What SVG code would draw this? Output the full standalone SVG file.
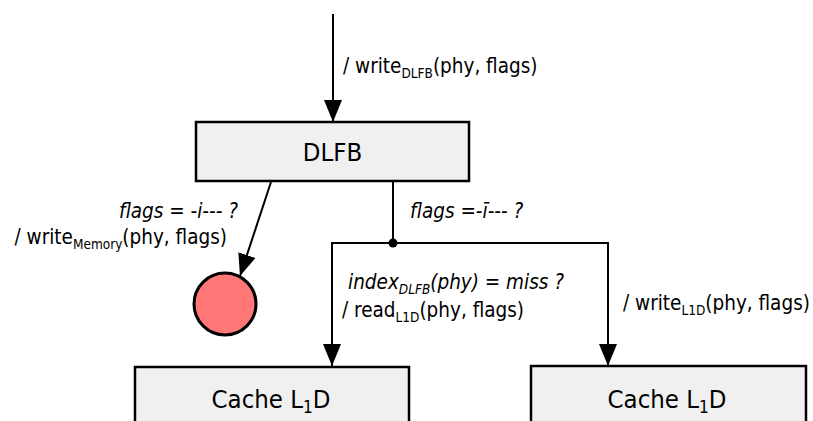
<svg xmlns="http://www.w3.org/2000/svg" width="813" height="421" viewBox="0 0 813 421">
  <style>
    text { font-family: "DejaVu Sans", "Liberation Sans", sans-serif; font-stretch: condensed; fill: #000; }
    .box { fill: #f0f0f0; stroke: #000; stroke-width: 2.5; }
    .name { font-size: 25.5px; text-anchor: middle; }
    .lbl { font-size: 20.5px; }
    .it { font-style: italic; }
    .sub { font-size: 13.5px; }
    .wire { fill: none; stroke: #000; stroke-width: 2; }
  </style>
  <defs>
    <marker id="head" markerUnits="userSpaceOnUse" markerWidth="22" markerHeight="18" viewBox="0 0 22 18" refX="22" refY="9" orient="auto">
      <path d="M0,0 L22,9 L0,18 Z" fill="#000"/>
    </marker>
  </defs>

  <!-- connectors and their labels -->
  <g id="connectors">
    <line class="wire" x1="333" y1="14" x2="333" y2="122" marker-end="url(#head)"/>
    <line class="wire" x1="271" y1="182" x2="240" y2="276" marker-end="url(#head)"/>
    <polyline class="wire" points="393,182 393,243"/>
    <polyline class="wire" points="332,366 332,243 608,243 608,366"/>
    <line class="wire" x1="332" y1="300" x2="332" y2="366" marker-end="url(#head)"/>
    <line class="wire" x1="608" y1="300" x2="608" y2="366" marker-end="url(#head)"/>
    <circle cx="393" cy="243" r="4.5" fill="#000"/>

    <text class="lbl" x="343" y="73">/ write<tspan class="sub" dy="5">DLFB</tspan><tspan dy="-5">(phy, flags)</tspan></text>
    <text class="lbl it" x="238" y="218" text-anchor="end">flags = -i--- ?</text>
    <text class="lbl" x="227" y="244" text-anchor="end">/ write<tspan class="sub" dy="5">Memory</tspan><tspan dy="-5">(phy, flags)</tspan></text>
    <text class="lbl it" x="410" y="218">flags =-ī--- ?</text>
    <text class="lbl it" x="348" y="289">index<tspan class="sub" dy="5">DLFB</tspan><tspan dy="-5">(phy) = miss ?</tspan></text>
    <text class="lbl" x="342" y="317">/ read<tspan class="sub" dy="5">L1D</tspan><tspan dy="-5">(phy, flags)</tspan></text>
    <text class="lbl" x="623" y="310">/ write<tspan class="sub" dy="5">L1D</tspan><tspan dy="-5">(phy, flags)</tspan></text>
  </g>

  <g id="dlfb">
    <rect class="box" x="196" y="122" width="273" height="59"/>
    <text class="name" x="332.5" y="161">DLFB</text>
  </g>

  <g id="memory">
    <circle cx="225" cy="304" r="31" fill="#ff7777" stroke="#000" stroke-width="3"/>
  </g>

  <g id="cache-read">
    <rect class="box" x="135" y="367" width="274" height="70"/>
    <text class="name" x="271" y="408">Cache L<tspan font-size="17" dy="5">1</tspan><tspan dy="-5">D</tspan></text>
  </g>

  <g id="cache-write">
    <rect class="box" x="531" y="366" width="275" height="70"/>
    <text class="name" x="667" y="408">Cache L<tspan font-size="17" dy="5">1</tspan><tspan dy="-5">D</tspan></text>
  </g>
</svg>
